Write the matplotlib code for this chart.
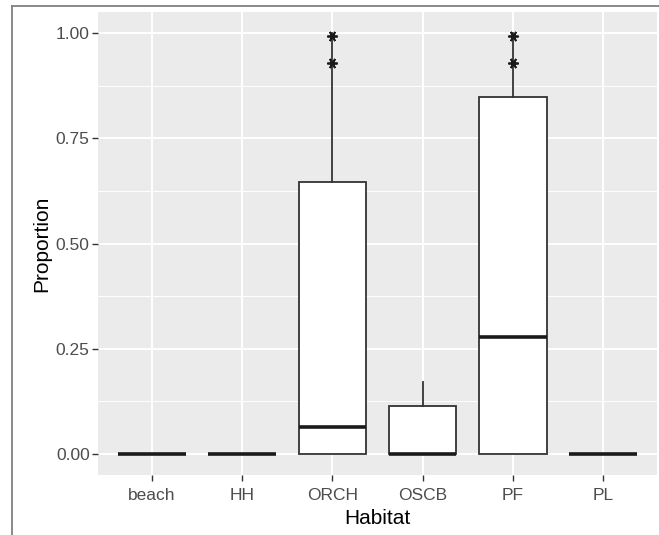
import numpy as np
from matplotlib import pyplot as plt
from matplotlib.lines import Line2D

# box statistics
habitat = ['beach', 'HH', 'ORCH', 'OSCB', 'PF', 'PL']
whisker_low = [0, 0, 0, 0, 0, 0]
q1 = [0, 0, 0, 0, 0, 0]
median = [0, 0, 0.063, 0, 0.278, 0]
q3 = [0, 0, 0.645, 0.115, 0.848, 0]
whisker_high = [0, 0, 1.0, 0.171, 1.0, 0]

# asterisk markers above ORCH and PF
star_habitat = ['ORCH', 'ORCH', 'PF', 'PF']
star_value = [0.993, 0.93, 0.993, 0.93]

W, H = 659, 535
fig = plt.figure(figsize=(W / 100, H / 100), dpi=100)
fig.patch.set_facecolor('white')

left, right, top, bottom = 98, 657, 12, 475
ax = fig.add_axes([left / W, 1 - bottom / H, (right - left) / W, (bottom - top) / H])
ax.set_facecolor('#EBEBEB')

stats = []
for i, h in enumerate(habitat):
    stats.append({'label': h, 'whislo': whisker_low[i], 'q1': q1[i], 'med': median[i],
                  'q3': q3[i], 'whishi': whisker_high[i], 'fliers': []})

pos = np.arange(1, len(habitat) + 1)
line_col = '#333333'
ax.bxp(stats, positions=pos, widths=0.75, showcaps=False, showfliers=False,
       patch_artist=True,
       boxprops=dict(facecolor='white', edgecolor=line_col, linewidth=1.3),
       whiskerprops=dict(color=line_col, linewidth=1.3),
       medianprops=dict(color='#1A1A1A', linewidth=2.6, solid_capstyle='butt'),
       zorder=3)

idx = {h: i + 1 for i, h in enumerate(habitat)}
ax.plot([idx[h] for h in star_habitat], star_value, linestyle='none',
        marker=(6, 2, 90), markersize=7.5, markeredgewidth=1.3, color='#1A1A1A', zorder=4)

ax.set_xlim(0.4, 6.6)
ax.set_ylim(-0.05, 1.05)
ax.set_yticks([0, 0.25, 0.5, 0.75, 1.0])
ax.set_yticklabels(['0.00', '0.25', '0.50', '0.75', '1.00'])
ax.set_yticks([0.125, 0.375, 0.625, 0.875], minor=True)
ax.set_xticks(pos)
ax.set_xticklabels(habitat)

ax.grid(True, which='major', color='white', linewidth=1.4, zorder=0)
ax.grid(True, which='minor', axis='y', color='white', linewidth=0.7, zorder=0)
ax.set_axisbelow(True)
for s in ax.spines.values():
    s.set_visible(False)

ax.tick_params(which='major', length=4, width=1, color='#333333', labelcolor='#4D4D4D',
               labelsize=12.5, pad=2)
ax.tick_params(axis='x', which='major', pad=5)
ax.tick_params(which='minor', length=0)
for lab in ax.get_xticklabels() + ax.get_yticklabels():
    lab.set_family('Liberation Sans')

ax.set_xlabel('Habitat', fontsize=15, family='Liberation Sans', labelpad=5)
ax.set_ylabel('Proportion', fontsize=15, family='Liberation Sans', labelpad=3)

# thin grey frame around the screenshot (left and top only)
fig.add_artist(Line2D([12 / W, 12 / W], [0, 1 - 6 / H], color='#808080', linewidth=1.3,
                      transform=fig.transFigure))
fig.add_artist(Line2D([12 / W, 1], [1 - 6 / H, 1 - 6 / H], color='#808080', linewidth=1.3,
                      transform=fig.transFigure))

fig.savefig('out.png', dpi=100)
